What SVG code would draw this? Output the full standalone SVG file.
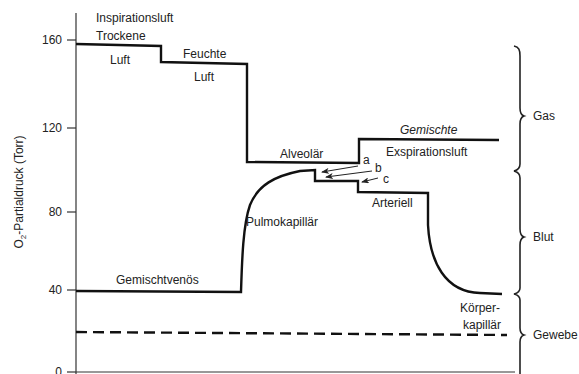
<svg xmlns="http://www.w3.org/2000/svg" width="579" height="374" viewBox="0 0 579 374">
<defs>
<style>
text{font-family:"Liberation Sans",Arial,sans-serif;font-size:12px;fill:#222}
.ax{stroke:#333;stroke-width:1.2;fill:none}
.thick{stroke:#111;stroke-width:2.4;fill:none;stroke-linejoin:miter}
.thin{stroke:#222;stroke-width:1;fill:none}
.brace{stroke:#222;stroke-width:1.6;fill:none}
</style>
<marker id="ah" viewBox="0 0 8 6" refX="7" refY="3" markerWidth="8" markerHeight="6" orient="auto" markerUnits="userSpaceOnUse">
<path d="M8,3 L0,0 L2,3 L0,6 Z" fill="#222"/>
</marker>
</defs>
<rect width="579" height="374" fill="#fff"/>
<g id="axes">
<line class="ax" x1="76" y1="13" x2="76" y2="374"/>
<line class="ax" x1="76" y1="372" x2="515" y2="372"/>
<line class="ax" x1="67" y1="40" x2="76" y2="40"/>
<line class="ax" x1="67" y1="128" x2="76" y2="128"/>
<line class="ax" x1="67" y1="212" x2="76" y2="212"/>
<line class="ax" x1="67" y1="290" x2="76" y2="290"/>
<line class="ax" x1="67" y1="372" x2="76" y2="372"/>
<text x="62" y="44" text-anchor="end">160</text>
<text x="62" y="132" text-anchor="end">120</text>
<text x="62" y="216" text-anchor="end">80</text>
<text x="62" y="294" text-anchor="end">40</text>
<text x="62" y="376" text-anchor="end">0</text>
<text transform="translate(23,192) rotate(-90)" text-anchor="middle" font-size="11">O<tspan font-size="8" dy="3">2</tspan><tspan dy="-3">-Partialdruck (Torr)</tspan></text>
</g>
<g id="connectors">
<path id="gas-curve" class="thick" d="M76,44 L161,46 L161,62 L247,64 L247,162 L359,163 L359,139 L499,140"/>
<path id="blood-curve" class="thick" d="M76,291 L241,292 C242,260 243,225 250,205 C258,185 275,176 300,171 L315,170 L315,181 L358,181 L358,192 L428,193 L428,225 C430,262 445,292 480,293 L502,294"/>
<path id="tissue-line" class="thick" stroke-dasharray="11,6" d="M76,332 L507,335"/>
<line class="thin" x1="358" y1="166" x2="322" y2="172" marker-end="url(#ah)"/>
<line class="thin" x1="372" y1="171" x2="326" y2="177" marker-end="url(#ah)"/>
<line class="thin" x1="378" y1="178" x2="362" y2="182" marker-end="url(#ah)"/>
<path class="brace" d="M514,46 C519,47 520,50 520,56 L520,108 C520,112 521,115 524,116 C521,117 520,120 520,124 L520,164 C520,168 518,170 514,171 C518,172 520,174 520,178 L520,229 C520,233 521,236 524,237 C521,238 520,241 520,245 L520,288 C520,291 518,293 514,294 C518,295 520,297 520,300 L520,328 C520,332 521,334 524,335 C521,336 520,338 520,342 L520,374"/>
</g>
<g id="labels">
<text x="96" y="22">Inspirationsluft</text>
<text x="96" y="40">Trockene</text>
<text x="110" y="64">Luft</text>
<text x="183" y="58">Feuchte</text>
<text x="194" y="81">Luft</text>
<text x="280" y="158">Alveolär</text>
<text x="400" y="134" font-style="italic">Gemischte</text>
<text x="386" y="156">Exspirationsluft</text>
<text x="363" y="164" font-size="11">a</text>
<text x="375" y="172" font-size="11">b</text>
<text x="383" y="183" font-size="11">c</text>
<text x="372" y="207">Arteriell</text>
<text x="246" y="226">Pulmokapillär</text>
<text x="116" y="284">Gemischtvenös</text>
<text x="460" y="312">Körper-</text>
<text x="463" y="329">kapillär</text>
<text x="533" y="120">Gas</text>
<text x="533" y="241">Blut</text>
<text x="533" y="339">Gewebe</text>
</g>
</svg>
